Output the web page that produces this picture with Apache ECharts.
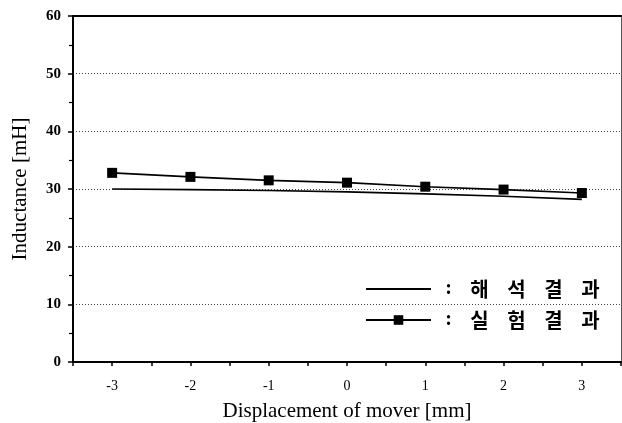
<!DOCTYPE html>
<html><head><meta charset="utf-8">
<script src="https://cdn.jsdelivr.net/npm/echarts@6/dist/echarts.min.js"></script>
<style>html,body{margin:0;padding:0;background:#fff}#c{width:622px;height:423px}</style>
</head><body><div id="c"></div>
<script>
var displacement = [-3, -2, -1, 0, 1, 2, 3];
var analysisValues = [30.0, 29.9, 29.75, 29.5, 29.15, 28.75, 28.2];
var experimentValues = [32.8, 32.1, 31.5, 31.1, 30.4, 29.9, 29.3];
var analysisName = '해석 결과';
var experimentName = '실험 결과';
var xTitle = 'Displacement of mover [mm]';
var yTitle = 'Inductance [mH]';

function pairs(xs, ys) { return xs.map(function (x, i) { return [x, ys[i]]; }); }

var chart = echarts.init(document.getElementById('c'));
var serif = '"Liberation Serif", "Times New Roman", serif';
chart.setOption({
  animation: false,
  backgroundColor: '#fff',
  grid: { left: 73, right: 1, top: 16, bottom: 61, containLabel: false, outerBoundsMode: 'none' },
  legend: {
    orient: 'vertical', left: 360, top: 273,
    itemWidth: 65, itemHeight: 12, itemGap: 9,
    data: [
      { name: analysisName, itemStyle: { opacity: 0 } },
      { name: experimentName }
    ],
    formatter: function (name) {
      var chars = name.replace(/\s/g, '').split('');
      return '{p|:}' + chars.map(function (c) { return '{c|' + c + '}'; }).join('');
    },
    textStyle: {
      color: '#000', fontSize: 20, lineHeight: 22,
      fontFamily: '"Noto Sans CJK KR", sans-serif', fontWeight: 'bold',
      rich: {
        p: { width: 25, align: 'center', fontSize: 20, fontWeight: 'bold', fontFamily: serif, color: '#000' },
        c: { width: 37, align: 'center', fontSize: 20, fontWeight: 'bold', fontFamily: '"Noto Sans CJK KR", sans-serif', color: '#000' }
      }
    }
  },
  xAxis: [{
    type: 'value', min: -3.5, max: 3.5, interval: 0.5,
    name: xTitle, nameLocation: 'middle', nameGap: 39,
    nameTextStyle: { fontFamily: serif, fontSize: 21, color: '#000' },
    axisLine: { show: true, onZero: false, lineStyle: { color: '#000', width: 2 } },
    axisTick: { show: true, length: 4, lineStyle: { color: '#000', width: 1.5 } },
    axisLabel: {
      margin: 17, color: '#000', fontFamily: serif, fontSize: 14,
      formatter: function (v) { return Number.isInteger(v) && Math.abs(v) < 3.5 ? String(v) : ''; }
    },
    splitLine: { show: false }
  }, {
    type: 'value', position: 'top', min: -3.5, max: 3.5,
    axisLine: { show: true, onZero: false, lineStyle: { color: '#000', width: 2 } },
    axisTick: { show: false }, axisLabel: { show: false }, splitLine: { show: false }
  }],
  yAxis: [{
    type: 'value', min: 0, max: 60, interval: 10,
    name: yTitle, nameLocation: 'middle', nameGap: 42,
    nameTextStyle: { fontFamily: serif, fontSize: 21, color: '#000' },
    axisLine: { show: true, onZero: false, lineStyle: { color: '#000', width: 2 } },
    axisTick: { show: true, length: 5, lineStyle: { color: '#000', width: 1.5 } },
    minorTick: { show: true, splitNumber: 2, length: 4, lineStyle: { color: '#000', width: 1.2 } },
    axisLabel: { margin: 12, color: '#000', fontFamily: serif, fontSize: 15, fontWeight: 'bold' },
    splitLine: { show: true, lineStyle: { color: '#444', width: 1, type: [1, 2] } }
  }, {
    type: 'value', position: 'right', min: 0, max: 60,
    axisLine: { show: true, onZero: false, lineStyle: { color: '#555', width: 1 } },
    axisTick: { show: false }, axisLabel: { show: false }, splitLine: { show: false }
  }],
  series: [{
    name: analysisName, type: 'line', data: pairs(displacement, analysisValues),
    symbol: 'none', smooth: false,
    lineStyle: { color: '#000', width: 1.6 }, itemStyle: { color: '#000' }
  }, {
    name: experimentName, type: 'line', data: pairs(displacement, experimentValues),
    symbol: 'rect', symbolSize: 10,
    lineStyle: { color: '#000', width: 1.6 }, itemStyle: { color: '#000' }
  }]
});
</script></body></html>
